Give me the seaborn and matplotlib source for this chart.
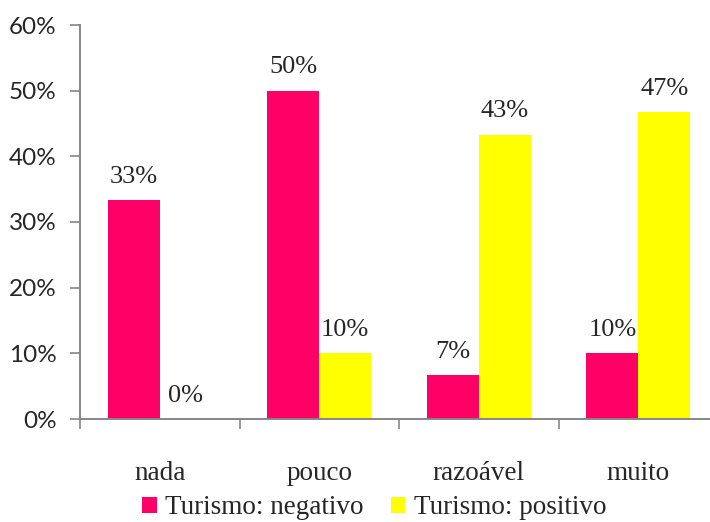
import matplotlib
matplotlib.use("Agg")
import matplotlib.pyplot as plt
from matplotlib.patches import Patch
from matplotlib.ticker import FuncFormatter, FixedLocator
import seaborn as sns
import pandas as pd

categories = ["nada", "pouco", "razoável", "muito"]
series_names = ["Turismo: negativo", "Turismo: positivo"]
negativo = [33.3, 50.0, 6.7, 10.0]
positivo = [0.0, 10.0, 43.3, 46.7]
colors = ["#FF0066", "#FFFF00"]

df = pd.DataFrame({
    "categoria": categories * 2,
    "serie": [series_names[0]] * 4 + [series_names[1]] * 4,
    "valor": negativo + positivo,
})

sns.set_theme(style="white")
plt.rcParams["font.family"] = ["Liberation Serif", "DejaVu Serif"]

fig = plt.figure(figsize=(7.10, 5.22), dpi=100)
ax = fig.add_axes([80 / 710, 103 / 522, 638 / 710, 394 / 522])

sns.barplot(data=df, x="categoria", y="valor", hue="serie", order=categories,
            hue_order=series_names, palette=colors, width=0.65, gap=0,
            saturation=1, linewidth=0, legend=False, ax=ax)

for cont in ax.containers:
    ax.bar_label(cont, labels=[f"{v.get_height():.0f}%" for v in cont],
                 padding=9, fontsize=19, family="Liberation Serif")

ax.set_xlim(-0.5, 3.5)
ax.set_ylim(0, 60)
ax.set_yticks([0, 10, 20, 30, 40, 50, 60])
ax.yaxis.set_major_formatter(FuncFormatter(lambda v, p: f"{v:.0f}%"))
for lab in ax.get_yticklabels():
    lab.set_family("Lato")
    lab.set_fontsize(17.5)

ax.set_xticks(range(4))
ax.set_xticklabels(categories, fontsize=19.5, family="Liberation Serif")
ax.xaxis.set_minor_locator(FixedLocator([-0.5, 0.5, 1.5, 2.5, 3.5]))
ax.tick_params(axis="x", which="major", length=0, pad=30)
ax.tick_params(axis="x", which="minor", length=7, width=1.2, color="#868686",
               direction="out", bottom=True)
ax.tick_params(axis="y", length=7, width=1.2, color="#868686", direction="out",
               left=True, pad=10)

ax.set_xlabel("")
ax.set_ylabel("")
for side in ["top", "right"]:
    ax.spines[side].set_visible(False)
for side in ["left", "bottom"]:
    ax.spines[side].set_color("#868686")
    ax.spines[side].set_linewidth(1.4)

handles = [Patch(facecolor=c, edgecolor="none") for c in colors]
fig.legend(handles, series_names, loc="center", bbox_to_anchor=(374 / 710, 1 - 508 / 522),
           ncol=2, frameon=False, handlelength=0.55, handleheight=0.55,
           handletextpad=0.3, columnspacing=1.0, prop={"family": "Liberation Serif", "size": 19.5})

fig.savefig("out.png", dpi=100)
